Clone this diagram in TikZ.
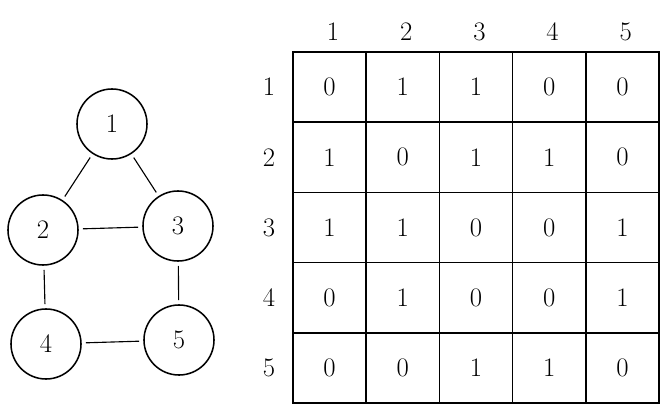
\documentclass[tikz,border=0pt]{standalone}
\usepackage{tikz}
\usetikzlibrary{positioning}

\begin{document}
\begin{tikzpicture}[x=0.025cm, y=-0.025cm,
  font=\fontsize{19pt}{22pt}\selectfont,
  vertex/.style={draw, circle, minimum size=1.75cm, line width=1.1pt},
  cell/.style={draw, minimum width=1.83cm, minimum height=1.755cm,
               line width=1.1pt},
  edge/.style={line width=0.8pt, shorten >=3pt, shorten <=3pt}]
  \fill[white] (0,0) rectangle (671,414);
  \useasboundingbox (0,0) rectangle (671,414);

  % graph
  \node[vertex] (v1) at (112,124) {1};
  \node[vertex] (v2) at (43,230) {2};
  \node[vertex] (v3) at (178,226) {3};
  \node[vertex] (v4) at (46,344) {4};
  \node[vertex] (v5) at (179,340) {5};
  \draw[edge] (v1) -- (v2);
  \draw[edge] (v1) -- (v3);
  \draw[edge] (v2) -- (v3);
  \draw[edge] (v2) -- (v4);
  \draw[edge] (v3) -- (v5);
  \draw[edge] (v4) -- (v5);

  % adjacency matrix
  \foreach \r/\vals in {1/{0,1,1,0,0}, 2/{1,0,1,1,0}, 3/{1,1,0,0,1},
                        4/{0,1,0,0,1}, 5/{0,0,1,1,0}} {
    \node (row-\r) at (269,{87.1+70.2*(\r-1)}) {\r};
    \foreach \v [count=\c] in \vals
      \node[cell] (m-\r-\c) at ({329.6+73.2*(\c-1)},{87.1+70.2*(\r-1)}) {\v};
  }
  \foreach \c in {1,...,5}
    \node (col-\c) at ({333+73.2*(\c-1)},32) {\c};
\end{tikzpicture}
\end{document}
